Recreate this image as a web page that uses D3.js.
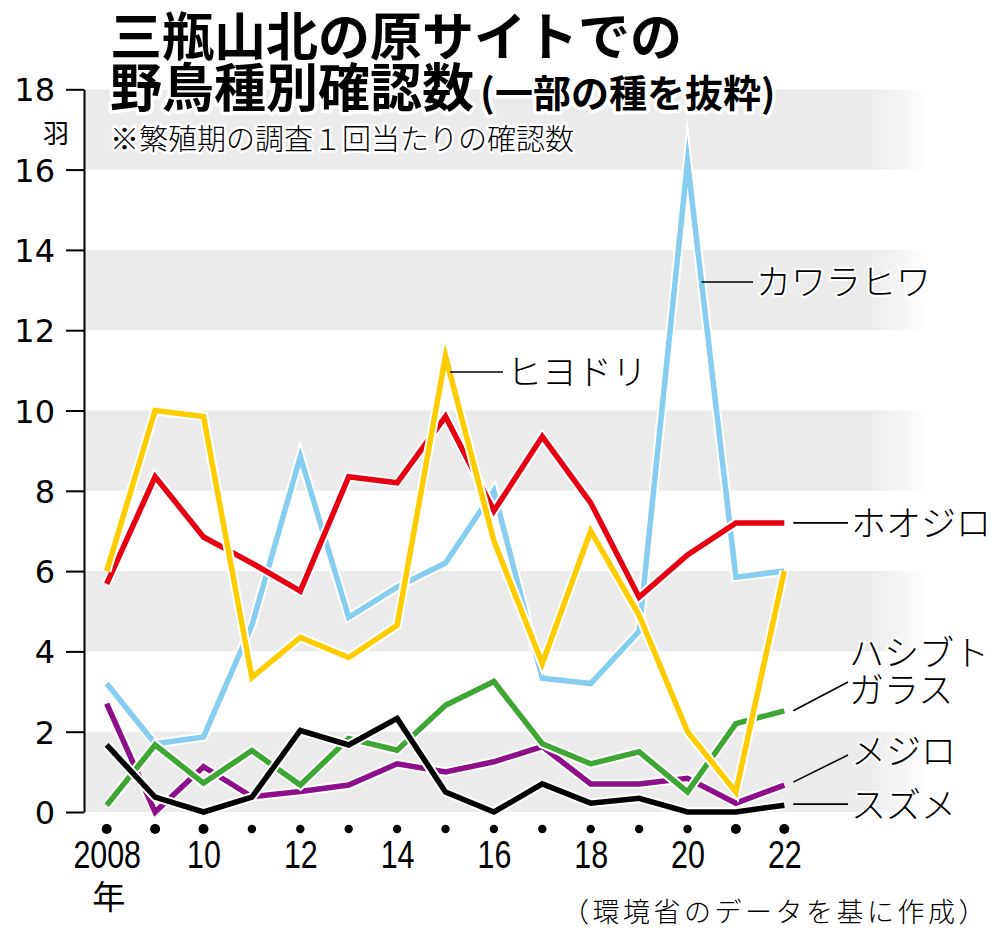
<!DOCTYPE html>
<html><head><meta charset="utf-8">
<script src="https://cdn.jsdelivr.net/npm/d3@7/dist/d3.min.js"></script>
<style>
html,body{margin:0;padding:0;background:#fff;}
svg{display:block;}
</style></head>
<body>
<svg id="c" width="1000" height="937"></svg>
<script>
const years = [2008,2009,2010,2011,2012,2013,2014,2015,2016,2017,2018,2019,2020,2021,2022];
const hiyodori   = [6.0,10.0,9.85,3.35,4.35,3.85,4.65,11.35,6.75,3.7,7.0,4.9,2.0,0.5,6.0];
const hoojiro    = [5.68,8.35,6.85,6.2,5.5,8.35,8.2,9.85,7.5,9.35,7.7,5.35,6.4,7.2,7.2];
const kawarahiwa = [3.2,1.7,1.87,4.65,8.85,4.85,5.6,6.2,8.0,3.33,3.2,4.5,16.2,5.85,6.0];
const hashibuto  = [0.17,1.67,0.72,1.53,0.67,1.83,1.54,2.66,3.25,1.7,1.2,1.5,0.5,2.2,2.52];
const mejiro     = [2.7,0.0,1.13,0.38,0.51,0.67,1.2,1.0,1.25,1.63,0.7,0.7,0.84,0.22,0.67];
const suzume     = [1.67,0.37,0.0,0.37,2.03,1.67,2.33,0.5,0.0,0.7,0.22,0.34,0.0,0.0,0.17];
const yTicks = [0,2,4,6,8,10,12,14,16,18];
const xTickYears = [2008,2010,2012,2014,2016,2018,2020,2022];

const svg = d3.select("#c");
const x = d3.scaleLinear().domain([2008,2022]).range([106.7,784.3]);
const y = d3.scaleLinear().domain([0,18]).range([812,89.3]);
const AX = 84;
const JP = "'Noto Sans CJK JP', sans-serif";

// gradient for bands
const defs = svg.append("defs");
const grad = defs.append("linearGradient").attr("id","band").attr("gradientUnits","userSpaceOnUse")
  .attr("x1",AX).attr("x2",930).attr("y1",0).attr("y2",0);
grad.append("stop").attr("offset",(870-AX)/(930-AX)).attr("stop-color","#ebebeb");
grad.append("stop").attr("offset",1).attr("stop-color","#ffffff");

const bands = [];
for (let i=0;i<yTicks.length-1;i+=2) bands.push([yTicks[i],yTicks[i+1]]);
svg.append("g").selectAll("rect").data(bands).join("rect")
  .attr("x",AX).attr("width",930-AX)
  .attr("y",d=>y(d[1])).attr("height",d=>y(d[0])-y(d[1]))
  .attr("fill","url(#band)");

// y axis
const yAxis = svg.append("g").attr("transform",`translate(${AX},0)`)
  .call(d3.axisLeft(y).tickValues(yTicks).tickSize(18).tickSizeOuter(0).tickPadding(11));
yAxis.select(".domain").attr("stroke","#000").attr("stroke-width",2);
yAxis.selectAll(".tick line").attr("stroke","#000").attr("stroke-width",2);
yAxis.selectAll(".tick text").attr("font-family","'DejaVu Sans', sans-serif")
  .attr("font-size",32).attr("fill","#000").attr("dy","0.36em");

// x axis labels
const xAxis = svg.append("g").attr("transform","translate(0,840)")
  .call(d3.axisBottom(x).tickValues(xTickYears).tickSize(0).tickPadding(0)
    .tickFormat(d=> d===2008 ? "2008" : String(d).slice(2)));
xAxis.select(".domain").remove();
xAxis.selectAll(".tick text").attr("font-family","'Liberation Sans', Arial, sans-serif")
  .attr("font-size",38).attr("fill","#000").attr("y",28).attr("dy",0)
  .attr("transform","scale(0.8,1)");
svg.append("text").attr("x",x(2008)+2).attr("y",909).attr("text-anchor","middle")
  .attr("font-family",JP).attr("font-size",33).text("年");

// dots
svg.append("g").selectAll("circle").data(years).join("circle")
  .attr("cx",d=>x(d)).attr("cy",829)
  .attr("r",d=> (d<=2010 || d>=2021) ? 5 : 4.2).attr("fill","#000");

// lines
const series = [
  {name:"メジロ", vals:mejiro, color:"#8e0f8a"},
  {name:"カワラヒワ", vals:kawarahiwa, color:"#86cdf0"},
  {name:"ハシブトガラス", vals:hashibuto, color:"#3fa535"},
  {name:"スズメ", vals:suzume, color:"#000000"},
  {name:"ホオジロ", vals:hoojiro, color:"#e60012"},
  {name:"ヒヨドリ", vals:hiyodori, color:"#ffcc00"},
];
const line = d3.line().x((d,i)=>x(years[i])).y(d=>y(d));
const lg = svg.append("g").attr("fill","none").attr("stroke-linejoin","miter").attr("stroke-miterlimit",12);
series.forEach(s=>{
  lg.append("path").attr("d",line(s.vals)).attr("stroke","#fff").attr("stroke-width",9.5);
  lg.append("path").attr("d",line(s.vals)).attr("stroke",s.color).attr("stroke-width",5.5);
});

// labels with leaders
function interpX(vals, i, v){
  const t = (v - vals[i])/(vals[i+1]-vals[i]);
  return x(years[i] + t);
}
const last = years.length-1;
const xe = x(years[last]);
const labels = [
  {lines:["カワラヒワ"], x1: interpX(kawarahiwa,12,13.2), y1: y(13.2), x2: 753, y2: y(13.2), tx:756, ty:[295]},
  {lines:["ヒヨドリ"], x1: 450, y1: 372, x2: 503, y2: 372, tx:507, ty:[385]},
  {lines:["ホオジロ"], x1: xe+9, y1: y(hoojiro[last]), x2: 848, y2: y(hoojiro[last]), tx:851, ty:[536]},
  {lines:["ハシブト","ガラス"], x1: xe+9, y1: y(hashibuto[last]), x2: 848, y2: 682, tx:849, ty:[666,703]},
  {lines:["メジロ"], x1: xe+9, y1: y(mejiro[last])-3, x2: 848, y2: 755, tx:851, ty:[764]},
  {lines:["スズメ"], x1: xe+9, y1: y(suzume[last])-1, x2: 848, y2: y(suzume[last])-1, tx:851, ty:[818]},
];
const labG = svg.append("g");
labels.forEach(l=>{
  labG.append("line").attr("x1",l.x1).attr("y1",l.y1).attr("x2",l.x2).attr("y2",l.y2)
    .attr("stroke","#000").attr("stroke-width",1.6);
  l.lines.forEach((t,i)=>{
    labG.append("text").attr("x",l.tx).attr("y",l.ty[i]).attr("font-family",JP)
      .attr("font-size",35).attr("font-weight",300).attr("fill","#000")
      .attr("stroke","#fff").attr("stroke-width",4).attr("paint-order","stroke").text(t);
  });
});

// titles
const tg = svg.append("g").attr("font-family",JP).attr("fill","#000")
  .attr("stroke","#fff").attr("stroke-linejoin","round").attr("paint-order","stroke");
tg.append("text").attr("x",110).attr("y",56).attr("font-size",52).attr("font-weight",700)
  .attr("stroke-width",7).text("三瓶山北の原サイトでの");
const t2 = tg.append("text").attr("y",107).attr("font-weight",700).attr("stroke-width",7);
t2.append("tspan").attr("x",110).attr("font-size",52).text("野鳥種別確認数");
t2.append("tspan").attr("x",480).attr("font-size",39).text("(");
t2.append("tspan").attr("x",495).attr("font-size",38).text("一部の種を抜粋)");
tg.append("text").attr("x",110).attr("y",150).attr("font-size",29).attr("font-weight",300)
  .attr("stroke-width",5).text("※繁殖期の調査１回当たりの確認数");
tg.append("text").attr("x",56).attr("y",143).attr("text-anchor","middle").attr("font-size",26)
  .attr("font-weight",400).attr("stroke-width",4).text("羽");

// source
svg.append("text").attr("x",989).attr("y",922).attr("text-anchor","end")
  .attr("font-family",JP).attr("font-size",27).attr("font-weight",300)
  .attr("letter-spacing",3.5).text("（環境省のデータを基に作成）");
</script>
</body></html>
